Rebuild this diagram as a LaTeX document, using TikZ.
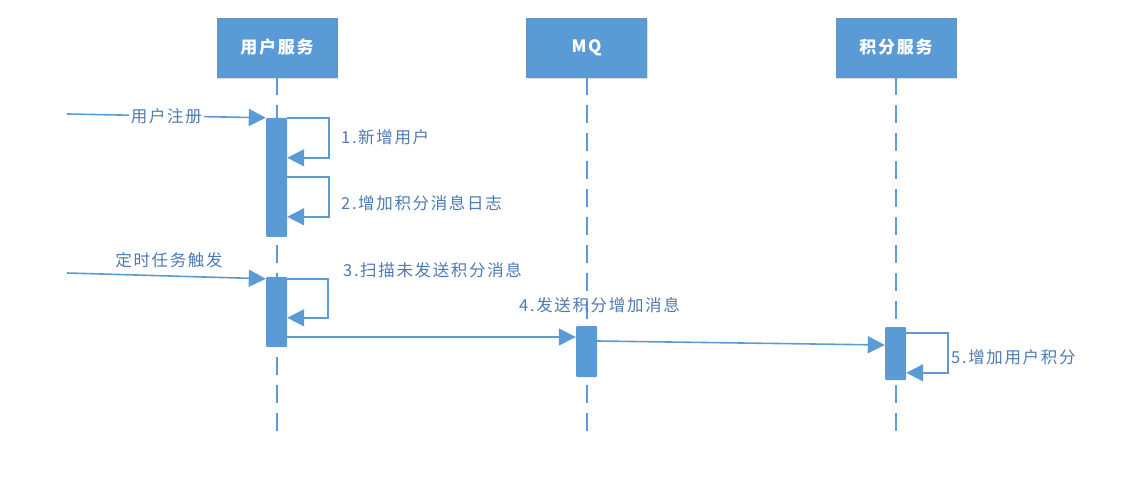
\documentclass[tikz,border=0pt]{standalone}
\usepackage{fontspec}
\setmainfont{Noto Sans CJK SC}[LetterSpace=10]
\usetikzlibrary{arrows.meta,shadows}

\begin{document}
\begin{tikzpicture}[x=1pt, y=-1pt,
    lifebox/.style={rectangle, fill=boxColour, draw=boxColour!80!gray, line width=0.4pt,
        minimum width=120pt, minimum height=59pt, text=white,
        font=\fontsize{17}{19}\selectfont\bfseries,
        drop shadow={shadow xshift=1pt, shadow yshift=-2pt, opacity=0.25, fill=gray}},
    activation/.style={rectangle, fill=boxColour, minimum width=21pt, inner sep=0pt, rounded corners=1pt},
    lifeline/.style={draw=boxColour, line width=2pt, dash pattern=on 18pt off 10pt},
    msg/.style={draw=boxColour, line width=1.6pt, -{Triangle[length=17pt,width=17pt]}},
    msglabel/.style={text=labelColour, font=\fontsize{16.5}{18}\selectfont, inner sep=1pt}]
    \definecolor{boxColour}{HTML}{5B9BD5}
    \definecolor{labelColour}{HTML}{4E7AB2}

    \useasboundingbox (0,0) rectangle (1135,486);

    % Lifeline heads
    \node[lifebox] (usr) at (277,47.5) {用户服务};
    \node[lifebox] (mq) at (586.5,47.5) {MQ};
    \node[lifebox] (pts) at (896,47.5) {积分服务};

    % Draw lifelines
    \foreach \n in {usr,mq,pts}
        \draw[lifeline] (\n.south) -- ++(0,360);

    % Activation bars
    \node[activation, minimum height=119pt] (act1) at (276.5,177.5) {};
    \node[activation, minimum height=70pt] (act2) at (276.5,312) {};
    \node[activation, minimum height=51pt] (actmq) at (586.5,351.5) {};
    \node[activation, minimum height=53pt] (actpts) at (895.5,353.5) {};

    % User registration
    \coordinate (regStart) at (67,114);
    \draw[msg] (regStart) -- (act1.north west)
        node[msglabel, pos=0.5, fill=white, inner xsep=2pt] (regLabel) {用户注册};
    \draw[msg] (act1.north east) -- ++(42,0) -- ++(0,40) -- ++(-42,0);
    \node[msglabel, anchor=west] (addUser) at (340,137) {1.新增用户};
    \draw[msg] ([yshift=-59pt]act1.north east) -- ++(42,0) -- ++(0,40) -- ++(-42,0);
    \node[msglabel, anchor=west] (addLog) at (340,203) {2.增加积分消息日志};

    % Scheduled task
    \coordinate (timerStart) at (67,273);
    \draw[msg] (timerStart) -- ([yshift=-2pt]act2.north west);
    \node[msglabel] (timerLabel) at (169,260) {定时任务触发};
    \draw[msg] ([yshift=-2pt]act2.north east) -- ++(41,0) -- ++(0,39) -- ++(-41,0);
    \node[msglabel, anchor=west] (scanMsg) at (342,270) {3.扫描未发送积分消息};

    % Send to MQ and on to points service
    \draw[msg] ([yshift=-25pt]act2.east) -- ([yshift=14.5pt]actmq.west);
    \node[msglabel, anchor=west] (sendMsg) at (518,305) {4.发送积分增加消息};
    \draw[msg] ([yshift=10.5pt]actmq.east) -- ([yshift=8.5pt]actpts.west);
    \draw[msg] ([yshift=-6pt]actpts.north east) -- ++(42,0) -- ++(0,40) -- ++(-42,0);
    \node[msglabel, anchor=west] (addPts) at (950,357) {5.增加用户积分};

\end{tikzpicture}
\end{document}
